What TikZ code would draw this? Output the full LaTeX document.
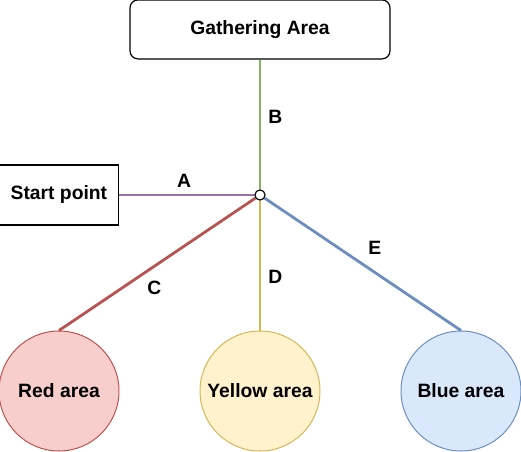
\documentclass[tikz,border=0pt]{standalone}
\usepackage{fontspec}
\setmainfont{Liberation Sans}
\usepackage{xcolor}
\usetikzlibrary{positioning}
\definecolor{routeA}{HTML}{9673A6}
\definecolor{routeB}{HTML}{82B366}
\definecolor{routeC}{HTML}{B85450}
\definecolor{routeD}{HTML}{D6B656}
\definecolor{routeE}{HTML}{6C8EBF}
\definecolor{fillC}{HTML}{F8CECC}
\definecolor{fillD}{HTML}{FFF2CC}
\definecolor{fillE}{HTML}{DAE8FC}
\newcommand{\diagfont}{\fontsize{19.3}{23}\selectfont\bfseries}

\begin{document}
\begin{tikzpicture}
    [
    every node/.style={font=\diagfont},
    hub/.style={circle, draw, fill=white, line width=1pt, minimum size=10pt, inner sep=0pt},
    box/.style={shape=rectangle, draw, line width=1.2pt, inner sep=0pt},
    area/.style={circle, line width=1pt, minimum size=120pt, inner sep=0pt},
    route/.style={line width=2.8pt},
    lbl/.style={inner sep=0pt},
    ]
    \useasboundingbox (-260pt,-256pt) rectangle (261pt,195pt);
    %
    \node[hub] (hub) at (0,0) {};
    \node[box, rounded corners=8pt, minimum width=260pt, minimum height=59pt, above=130pt of hub] (gather) {Gathering Area};
    \node[box, minimum width=120pt, minimum height=60pt, left=135pt of hub] (start) {Start point};
    \node[area, draw=routeD, fill=fillD, below=130pt of hub] (yellow) {Yellow area};
    \node[area, draw=routeC, fill=fillC, left=80pt of yellow] (red) {Red area};
    \node[area, draw=routeE, fill=fillE, right=80pt of yellow] (blue) {Blue area};
    %
    \path[route]
        (start) edge[draw=routeA] node[lbl, above=6pt, xshift=-3pt] {A} (hub)
        (hub) edge[draw=routeB] node[lbl, right=7pt, pos=0.56] {B} (gather)
        (hub) edge[draw=routeC] node[lbl, pos=0.57, xshift=11pt, yshift=-14pt] {C} (red.north)
        (hub) edge[draw=routeD] node[lbl, right=7pt, pos=0.585] {D} (yellow)
        (hub) edge[draw=routeE] node[lbl, pos=0.51, xshift=10pt, yshift=18pt] {E} (blue.north)
    ;
    \node[hub] at (hub) {};
\end{tikzpicture}
\end{document}
